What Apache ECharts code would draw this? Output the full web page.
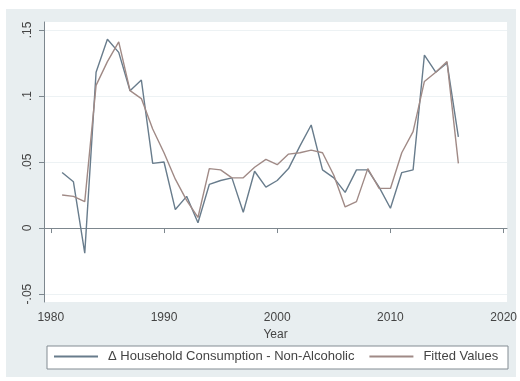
<!DOCTYPE html>
<html>
<head>
<meta charset="utf-8">
<script src="https://cdn.jsdelivr.net/npm/echarts@6/dist/echarts.min.js"></script>
<style>
  html, body { margin: 0; padding: 0; background: #fff; }
  #chart { width: 520px; height: 381px; }
</style>
</head>
<body>
<div id="chart"></div>
<script>
// years and series
var years = [1981, 1982, 1983, 1984, 1985, 1986, 1987, 1988, 1989, 1990,
             1991, 1992, 1993, 1994, 1995, 1996, 1997, 1998, 1999, 2000,
             2001, 2002, 2003, 2004, 2005, 2006, 2007, 2008, 2009, 2010,
             2011, 2012, 2013, 2014, 2015, 2016];
var actual = [0.042, 0.035, -0.019, 0.118, 0.143, 0.133, 0.104, 0.112, 0.049, 0.050,
              0.014, 0.024, 0.004, 0.033, 0.036, 0.038, 0.012, 0.043, 0.031, 0.036,
              0.045, 0.062, 0.078, 0.044, 0.038, 0.027, 0.044, 0.044, 0.031, 0.015,
              0.042, 0.044, 0.131, 0.118, 0.125, 0.069];
var fitted = [0.025, 0.024, 0.020, 0.108, 0.126, 0.141, 0.104, 0.098, 0.075, 0.057,
              0.037, 0.021, 0.008, 0.045, 0.044, 0.038, 0.038, 0.046, 0.052, 0.048,
              0.056, 0.057, 0.059, 0.057, 0.040, 0.016, 0.020, 0.045, 0.030, 0.030,
              0.057, 0.073, 0.111, 0.118, 0.126, 0.049];
var xTicks = [1980, 1990, 2000, 2010, 2020];
var yTicks = [-0.05, 0, 0.05, 0.1, 0.15];
var seriesNames = ['\u0394 Household Consumption - Non-Alcoholic', 'Fitted Values'];

function pairs(vals) {
    return years.map(function (y, i) { return [y, vals[i]]; });
}
function yFmt(v) {
    // stata style: .15, .1, -.05
    var s = String(Math.round(v * 100) / 100);
    return s.replace(/^0\./, '.').replace(/^-0\./, '-.');
}

var chart = echarts.init(document.getElementById('chart'));
var axisColor = '#7d878e';
var textColor = '#444';

var option = {
    backgroundColor: '#fff',
    animation: false,
    textStyle: { fontFamily: 'Liberation Sans, Arial, sans-serif' },
    graphic: [
        {
            type: 'rect', z: -10, silent: true,
            shape: { x: 6, y: 9, width: 510, height: 368 },
            style: { fill: '#e8eef0' }
        },
        {
            type: 'rect', z: -5, silent: true,
            shape: { x: 47, y: 346, width: 461, height: 23 },
            style: { fill: '#fff', stroke: '#838c93', lineWidth: 1 }
        }
    ],
    grid: {
        show: true,
        left: 44, right: 10, top: 22, bottom: 79,
        backgroundColor: '#fff',
        borderWidth: 0
    },
    legend: {
        left: 54, top: 350,
        padding: 0,
        itemGap: 15,
        itemWidth: 44,
        itemHeight: 2,
        icon: 'rect',
        textStyle: { fontSize: 13, color: textColor, padding: [0, 0, 0, 5] },
        data: seriesNames
    },
    xAxis: {
        type: 'value',
        min: 1979.4, max: 2020.3,
        name: 'Year',
        nameLocation: 'middle',
        nameGap: 25,
        nameTextStyle: { fontSize: 12, color: textColor },
        axisLine: { show: true, lineStyle: { color: axisColor } },
        axisTick: { show: true, length: 5, customValues: xTicks, lineStyle: { color: axisColor } },
        axisLabel: {
            customValues: xTicks, fontSize: 12, color: textColor, margin: 10,
            formatter: function (v) { return String(v); }
        },
        splitLine: { show: false }
    },
    yAxis: {
        type: 'value',
        min: -0.056, max: 0.156,
        axisLine: { show: true, lineStyle: { color: axisColor } },
        axisTick: { show: true, length: 5, customValues: yTicks, lineStyle: { color: axisColor } },
        axisLabel: {
            customValues: yTicks, fontSize: 12, color: textColor,
            rotate: 90, margin: 10, formatter: yFmt
        },
        splitLine: { show: true, lineStyle: { color: '#edf2f4', width: 1 } }
    },
    series: [
        {
            name: seriesNames[0],
            type: 'line',
            showSymbol: false,
            color: '#687c8c',
            lineStyle: { width: 1.4, color: '#687c8c' },
            data: pairs(actual)
        },
        {
            name: seriesNames[1],
            type: 'line',
            showSymbol: false,
            color: '#a08a86',
            lineStyle: { width: 1.4, color: '#a08a86' },
            data: pairs(fitted)
        }
    ]
};

chart.setOption(option);
window.addEventListener('resize', function () {
    chart.resize();
});
</script>
</body>
</html>
